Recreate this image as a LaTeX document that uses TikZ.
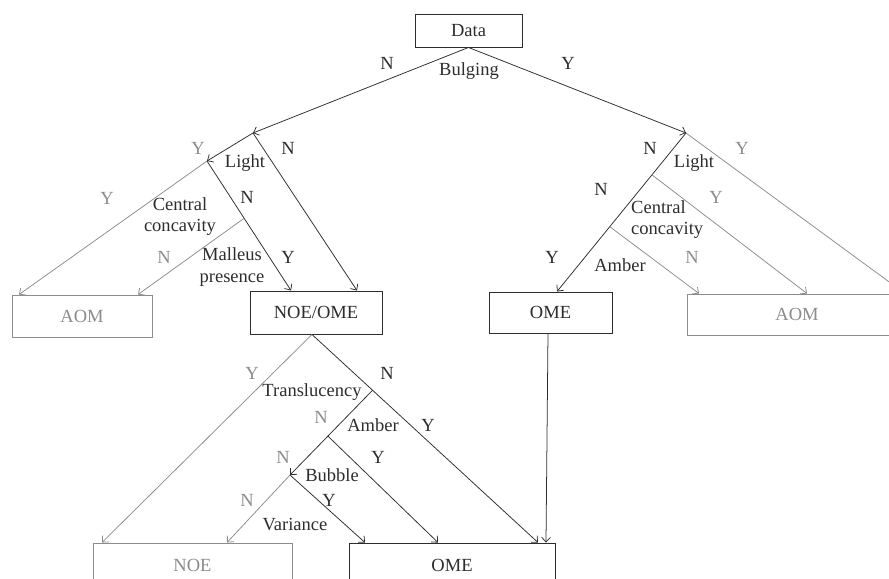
\documentclass[tikz,border=0pt]{standalone}
\usepackage{fontspec}
\setmainfont{Liberation Serif}
\usetikzlibrary{arrows.meta,calc}
\definecolor{dk}{RGB}{45,45,45}
\definecolor{lt}{RGB}{140,140,140}
\begin{document}
\begin{tikzpicture}[x=0.03cm,y=-0.03cm,
  txt/.style={font=\fontsize{15.8pt}{18pt}\selectfont, inner sep=0pt, text=dk},
  gtxt/.style={txt, text=lt},
  box/.style={draw=dk, line width=0.8pt, inner sep=0pt, font=\fontsize{15.8pt}{18pt}\selectfont, text=dk},
  gbox/.style={box, draw=lt, text=lt},
  ln/.style={draw=dk, line width=0.65pt},
  arr/.style={ln, -{Straight Barb[length=4pt,width=7.5pt]}},
  garr/.style={arr, draw=lt}]
\useasboundingbox (0,0) rectangle (889,578);
\clip (0,0) rectangle (889,578);
% boxes
\node[box, minimum width=3.21cm, minimum height=0.99cm] (data) at (468.5,30.5) {Data};
\node[gbox, minimum width=4.2cm, minimum height=1.26cm] (aomL) at (82,316) {AOM};
\node[box, minimum width=3.96cm, minimum height=1.29cm] (noeome) at (316,312.5) {NOE/OME};
\node[box, minimum width=3.69cm, minimum height=1.23cm] (omeR) at (550.5,312.5) {OME};
\node[gbox, minimum width=6.6cm, minimum height=1.23cm] (aomR) at (797,314.5) {AOM};
\node[gbox, minimum width=5.97cm, minimum height=1.32cm] (noe) at (192.5,565) {NOE};
\node[box, minimum width=6.18cm, minimum height=1.32cm] (omeB) at (452,565) {OME};
% branch points
\coordinate (L1) at (253,133);
\coordinate (R1) at (686,133);
\coordinate (L2) at (207,161);
\coordinate (tA) at (291,0 |- noeome.north);
\coordinate (tB) at (357,0 |- noeome.north);
\coordinate (Lm) at ($(L2)!0.442!(tA)$);
\coordinate (aA) at (19,0 |- aomL.north);
\coordinate (aB) at (138,0 |- aomL.north);
\coordinate (oR) at (557,0 |- omeR.north);
\coordinate (Rc) at ($(R1)!0.264!(oR)$);
\coordinate (Ra) at ($(R1)!0.591!(oR)$);
\coordinate (rA) at (699,0 |- aomR.north);
\coordinate (rB) at (807,0 |- aomR.north);
\coordinate (rC) at (905,0 |- aomR.north);
\coordinate (P0) at (312,0 |- noeome.south);
\coordinate (nA) at (102,0 |- noe.north);
\coordinate (nB) at (227,0 |- noe.north);
\coordinate (oA) at (365,0 |- omeB.north);
\coordinate (oB) at (438,0 |- omeB.north);
\coordinate (oC) at (538,0 |- omeB.north);
\coordinate (oD) at (546,0 |- omeB.north);
\coordinate (oS) at (548,0 |- omeR.south);
\coordinate (T) at ($(P0)!0.268!(oC)$);
\coordinate (Bu) at (290,475);
\coordinate (Am) at ($(T)!0.541!(Bu)$);
% connectors
\draw[arr] (data.south) -- (L1);
\draw[arr] (data.south) -- (R1);
\draw[arr] (L1) -- (L2);
\draw[arr] (L1) -- (tB);
\draw[arr] (L2) -- (tA);
\draw[garr] (L2) -- (aA);
\draw[garr] (Lm) -- (aB);
\draw[arr] (R1) -- (oR);
\draw[garr] (R1) -- (rC);
\draw[garr] (Rc) -- (rB);
\draw[garr] (Ra) -- (rA);
\draw[garr] (P0) -- (nA);
\draw[arr] (P0) -- (oC);
\draw[arr] (T) -- (Bu);
\draw[arr] (Am) -- (oB);
\draw[garr] (Bu) -- (nB);
\draw[arr] (Bu) -- (oA);
\draw[arr] (oS) -- (oD);
% labels top
\node[txt] (n1) at (387,63) {N};
\node[txt] (y1) at (568,63) {Y};
\node[txt] (q1) at (469,71) {Bulging};
% left upper
\node[gtxt] (y2) at (198,148) {Y};
\node[txt] (q2) at (245,163) {Light};
\node[txt] (n2) at (288,148) {N};
\node[gtxt] (y3) at (107,198) {Y};
\node[txt, align=center] (q3) at (180,217) {Central\\concavity};
\node[txt] (n3) at (247,197) {N};
\node[gtxt] (n4) at (164,257) {N};
\node[txt, align=center] (q4) at (232,267) {Malleus\\presence};
\node[txt] (y4) at (288,257) {Y};
% right upper
\node[txt] (n5) at (650,148) {N};
\node[txt] (q5) at (694,163) {Light};
\node[gtxt] (y5) at (742,148) {Y};
\node[txt] (n6) at (601,189) {N};
\node[txt, align=left, anchor=west] (q6) at (631,220) {Central\\concavity};
\node[gtxt] (y6) at (716,197) {Y};
\node[txt] (y7) at (552,257) {Y};
\node[txt] (q7) at (620,265) {Amber};
\node[gtxt] (n7) at (692,257) {N};
% lower
\node[gtxt] (y8) at (252,373) {Y};
\node[txt] (q8) at (312,392) {Translucency};
\node[txt] (n8) at (387,373) {N};
\node[gtxt] (n9) at (321,417) {N};
\node[txt] (q9) at (373,425) {Amber};
\node[txt] (y9) at (428,425) {Y};
\node[gtxt] (n10) at (283,457) {N};
\node[txt] (y10) at (378,457) {Y};
\node[txt] (q10) at (332,475) {Bubble};
\node[gtxt] (n11) at (247,500) {N};
\node[txt] (y11) at (329,500) {Y};
\node[txt] (q11) at (295,525) {Variance};
\end{tikzpicture}
\end{document}
